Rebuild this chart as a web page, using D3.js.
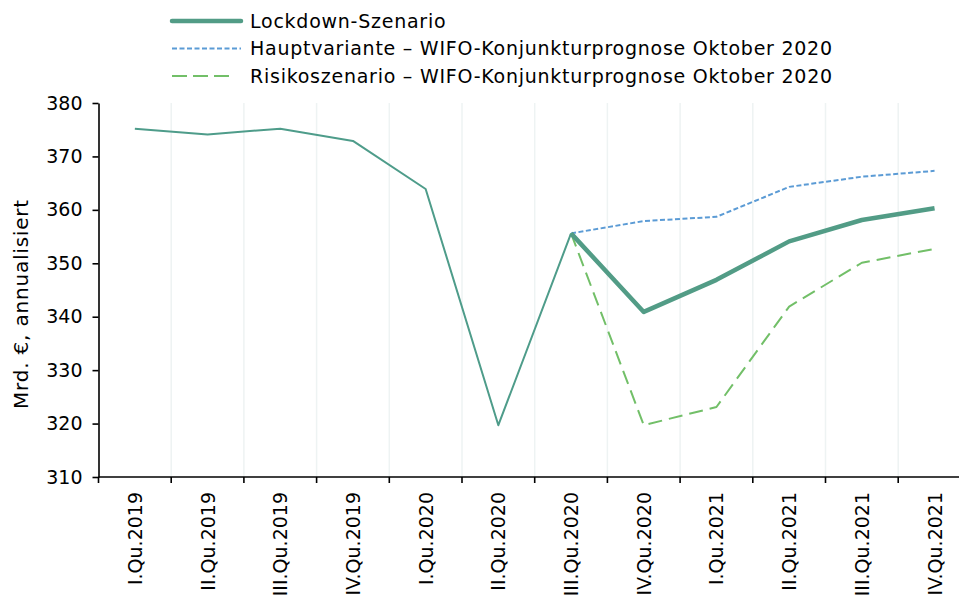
<!DOCTYPE html>
<meta charset="utf-8">
<script src="https://d3js.org/d3.v7.min.js"></script>
<style>
  body { margin: 0; background: #fff; font-family: 'DejaVu Sans', sans-serif; }
</style>
<div id="my_dataviz"></div>
<script>
// categories (quarters) and series values, Mrd. EUR annualisiert
var quarters = ["I.Qu.2019", "II.Qu.2019", "III.Qu.2019", "IV.Qu.2019",
                "I.Qu.2020", "II.Qu.2020", "III.Qu.2020", "IV.Qu.2020",
                "I.Qu.2021", "II.Qu.2021", "III.Qu.2021", "IV.Qu.2021"];
var histValues = [375.2, 374.1, 375.2, 372.9, 363.9, 319.7, 355.6, null, null, null, null, null];
var lockdown = [null, null, null, null, null, null, 355.6, 340.9, 346.9, 354.1, 358.1, 360.3];
var hauptvariante = [null, null, null, null, null, null, 355.6, 357.9, 358.7, 364.3, 366.2, 367.3];
var risiko = [null, null, null, null, null, null, 355.6, 319.7, 323.1, 341.9, 350.1, 352.7];
var yTicks = [310, 320, 330, 340, 350, 360, 370, 380];
var legendLabels = ["Lockdown-Szenario",
                    "Hauptvariante \u2013 WIFO-Konjunkturprognose Oktober 2020",
                    "Risikoszenario \u2013 WIFO-Konjunkturprognose Oktober 2020"];

var width = 959, height = 598;
var svg = d3.select("#my_dataviz")
  .append("svg")
    .attr("width", width)
    .attr("height", height);

var plotLeft = 98.5, plotTop = 103, plotBottom = 477, band = 72.7;

var x = d3.scaleBand()
  .domain(quarters)
  .range([plotLeft, plotLeft + band * quarters.length]);
var y = d3.scaleLinear()
  .domain([310, 380])
  .range([plotBottom, plotTop]);

// faint vertical gridlines at the category boundaries
svg.selectAll("gridline")
  .data(quarters.slice(1))
  .enter()
  .append("line")
    .attr("x1", function(d) { return x(d); })
    .attr("x2", function(d) { return x(d); })
    .attr("y1", plotTop)
    .attr("y2", plotBottom)
    .style("stroke", "#eef3f3")
    .style("stroke-width", 1.5);

// Y axis
var yAxis = svg.append("g")
  .attr("transform", "translate(" + plotLeft + ",0)")
  .call(d3.axisLeft(y).tickValues(yTicks).tickSize(6).tickPadding(10).tickSizeOuter(0));
yAxis.select(".domain").style("stroke", "#000").style("stroke-width", 1.6);
yAxis.selectAll(".tick line").style("stroke", "#000").style("stroke-width", 1.6);
yAxis.selectAll("text")
  .style("font-family", "'DejaVu Sans', sans-serif")
  .style("font-size", "19px")
  .style("fill", "#000");

// Y axis title
svg.append("text")
  .attr("transform", "translate(28,304) rotate(-90)")
  .attr("text-anchor", "middle")
  .style("font-size", "20px")
  .style("letter-spacing", "0.8px")
  .style("fill", "#000")
  .text("Mrd. \u20ac, annualisiert");

// X axis: line, ticks at category boundaries, rotated labels
svg.append("line")
  .attr("x1", plotLeft)
  .attr("x2", width)
  .attr("y1", plotBottom)
  .attr("y2", plotBottom)
  .style("stroke", "#000")
  .style("stroke-width", 1.6);
svg.selectAll("xtick")
  .data(quarters)
  .enter()
  .append("line")
    .attr("x1", function(d) { return x(d); })
    .attr("x2", function(d) { return x(d); })
    .attr("y1", plotBottom)
    .attr("y2", plotBottom + 6)
    .style("stroke", "#000")
    .style("stroke-width", 1.6);
svg.selectAll("xlabel")
  .data(quarters)
  .enter()
  .append("text")
    .attr("transform", function(d) {
      return "translate(" + (x(d) + x.bandwidth() / 2 + 7) + ",492) rotate(-90)";
    })
    .attr("text-anchor", "end")
    .style("font-size", "19px")
    .style("fill", "#000")
    .text(function(d) { return d; });

// lines
var line = d3.line()
  .defined(function(d) { return d != null; })
  .x(function(d, i) { return x(quarters[i]) + x.bandwidth() / 2; })
  .y(function(d) { return y(d); });

var series = [
  { values: histValues, color: "#4e9c8a", width: 2, dash: null },
  { values: hauptvariante, color: "#5b9bd5", width: 2, dash: "5,2.5" },
  { values: risiko, color: "#72bf68", width: 2, dash: "14,7" },
  { values: lockdown, color: "#529c86", width: 4.5, dash: null }
];
svg.selectAll("series")
  .data(series)
  .enter()
  .append("path")
    .attr("d", function(d) { return line(d.values); })
    .style("fill", "none")
    .style("stroke", function(d) { return d.color; })
    .style("stroke-width", function(d) { return d.width; })
    .style("stroke-dasharray", function(d) { return d.dash; })
    .style("stroke-linejoin", "round");

// legend
var legendStyles = [series[3], series[1], series[2]];
var legend = svg.selectAll("legend")
  .data(legendLabels)
  .enter()
  .append("g")
    .attr("transform", function(d, i) { return "translate(172," + (21 + i * 27.5) + ")"; });
legend.append("line")
  .attr("x1", 0)
  .attr("x2", function(d, i) { return i == 2 ? 60 : 69; })
  .style("stroke", function(d, i) { return legendStyles[i].color; })
  .style("stroke-width", function(d, i) { return legendStyles[i].width; })
  .style("stroke-dasharray", function(d, i) { return i == 2 ? "15,6" : legendStyles[i].dash; })
  .style("stroke-linecap", function(d, i) { return i == 0 ? "round" : "butt"; });
legend.append("text")
  .attr("x", 78)
  .attr("dy", "0.35em")
  .style("font-size", "19px")
  .style("letter-spacing", "0.75px")
  .style("fill", "#000")
  .text(function(d) { return d; });
</script>
